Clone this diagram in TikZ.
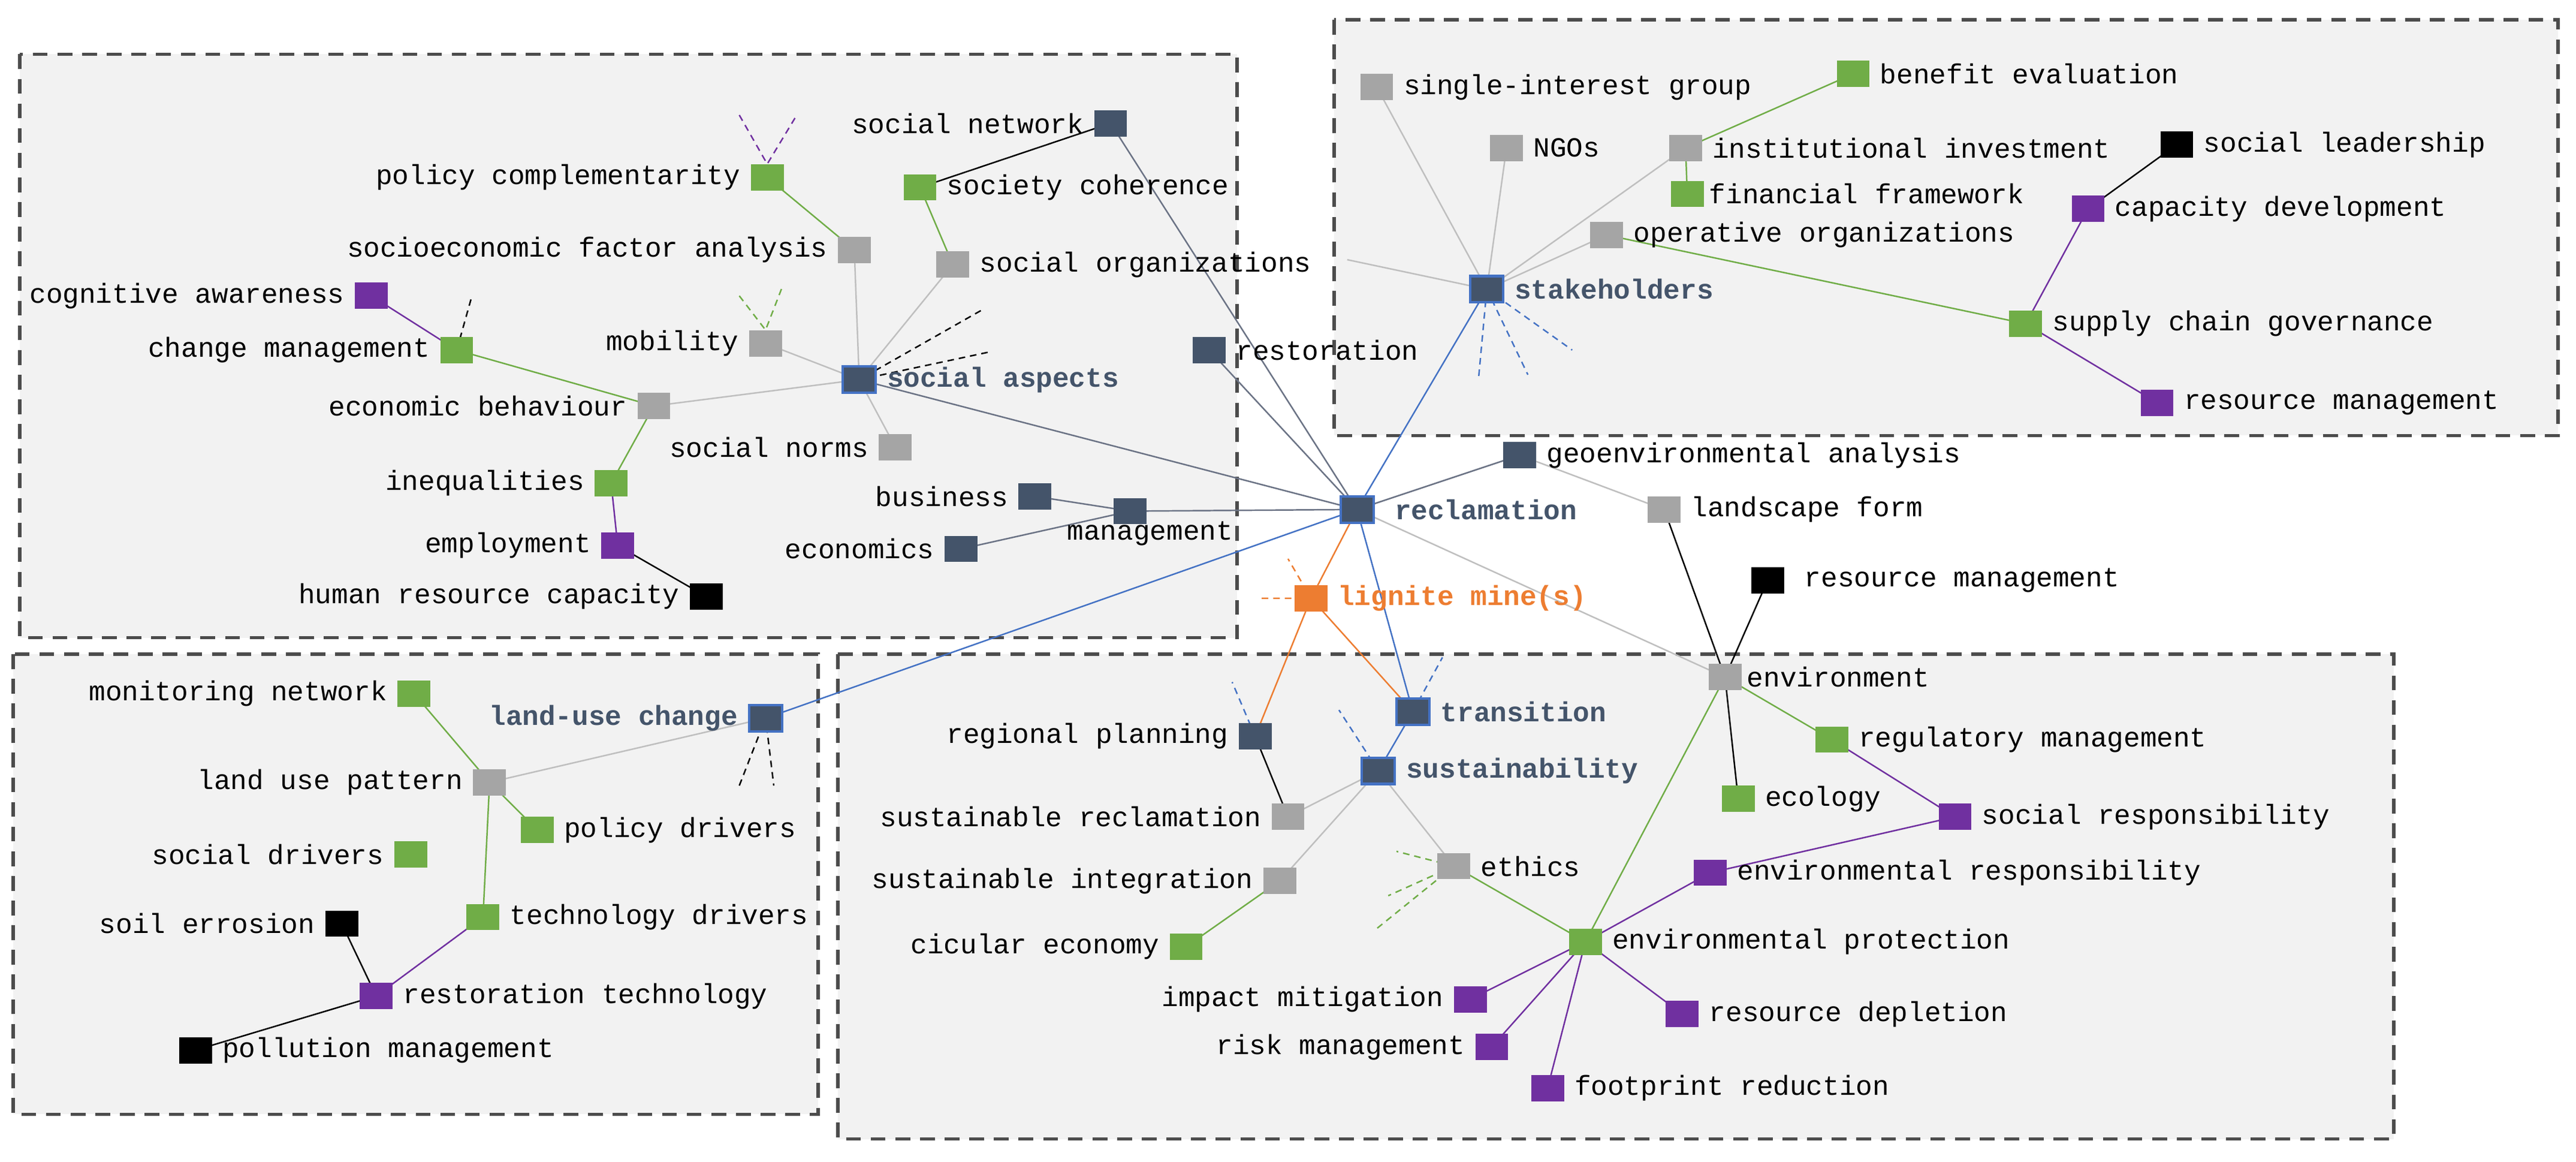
\documentclass[tikz,border=0pt]{standalone}
\usepackage{fontspec}
\setmainfont{Liberation Mono}
\pgfdeclarelayer{panels}\pgfdeclarelayer{edges}
\pgfsetlayers{panels,edges,main}
\definecolor{slate}{HTML}{44546A}
\definecolor{lgray}{HTML}{A5A5A5}
\definecolor{grn}{HTML}{70AD47}
\definecolor{pur}{HTML}{7030A0}
\definecolor{org}{HTML}{ED7D31}
\definecolor{blu}{HTML}{4472C4}
\definecolor{eg}{HTML}{BFBFBF}
\definecolor{es}{HTML}{6B7385}
\tikzset{
 sq/.style={rectangle,minimum width=20pt,minimum height=16pt,inner sep=0},
 D/.style={sq,fill=slate}, G/.style={sq,fill=lgray}, Gr/.style={sq,fill=grn},
 P/.style={sq,fill=pur}, K/.style={sq,fill=black}, O/.style={sq,fill=org},
 KEY/.style={sq,fill=slate,draw=blu,line width=1.5pt},
 lab/.style={font=\fontsize{16.8}{17}\selectfont,inner sep=6pt},
 kl/.style={lab,font=\fontsize{16.8}{17}\selectfont\bfseries,text=slate},
 panel/.style={fill=black!5,draw=black!70,line width=2pt,dash pattern=on 9pt off 6pt},
 e/.style={line width=0.9pt},
 stub/.style={line width=0.9pt,dash pattern=on 4pt off 3pt}
}
\begin{document}
\begin{tikzpicture}[x=1pt,y=-1pt]
\begin{pgfonlayer}{panels}
\fill[white] (0,0) rectangle (1568,707);
\draw[panel] (12,33) rectangle (753,388);
\draw[panel] (812,12) rectangle (1557,265);
\draw[panel] (8,398) rectangle (498,678);
\draw[panel] (510,398) rectangle (1457,693);
\end{pgfonlayer}
\useasboundingbox (0,0) rectangle (1568,707);
% social
\node[D] (snet) at (676,75) {}; \node[lab,left] at (snet.west) {social network};
\node[Gr] (polcomp) at (467,108) {}; \node[lab,left] at (polcomp.west) {policy complementarity};
\node[Gr] (socoh) at (560,114) {}; \node[lab,right] at (socoh.east) {society coherence};
\node[G] (sefa) at (520,152) {}; \node[lab,left] at (sefa.west) {socioeconomic factor analysis};
\node[G] (socorg) at (580,161) {}; \node[lab,right] at (socorg.east) {social organizations};
\node[P] (cogaw) at (226,180) {}; \node[lab,left] at (cogaw.west) {cognitive awareness};
\node[Gr] (chg) at (278,213) {}; \node[lab,left] at (chg.west) {change management};
\node[G] (mob) at (466,209) {}; \node[lab,left] at (mob.west) {mobility};
\node[KEY] (socasp) at (523,231) {}; \node[kl,right] at (socasp.east) {social aspects};
\node[G] (econbeh) at (398,247) {}; \node[lab,left] at (econbeh.west) {economic behaviour};
\node[G] (socnorms) at (545,272) {}; \node[lab,left] at (socnorms.west) {social norms};
\node[Gr] (ineq) at (372,294) {}; \node[lab,left] at (ineq.west) {inequalities};
\node[D] (business) at (630,302) {}; \node[lab,left] at (business.west) {business};
\node[D] (mgmt) at (688,311) {}; \node[lab,anchor=north] at (700,311) {management};
\node[D] (econ) at (585,334) {}; \node[lab,left] at (econ.west) {economics};
\node[P] (empl) at (376,332) {}; \node[lab,left] at (empl.west) {employment};
\node[K] (hrc) at (430,363) {}; \node[lab,left] at (hrc.west) {human resource capacity};
\node[D] (restor) at (736,213) {}; \node[lab,right] at (restor.east) {restoration};
% center
\node[KEY] (reclam) at (826,310) {}; \node[kl,right,xshift=6pt] at (reclam.east) {reclamation};
\node[D] (geoenv) at (925,277) {}; \node[lab,right] at (geoenv.east) {geoenvironmental analysis};
\node[G] (landsc) at (1013,310) {}; \node[lab,right] at (landsc.east) {landscape form};
\node[K] (resmg2) at (1076,353) {}; \node[lab,right,xshift=6pt] at (resmg2.east) {resource management};
\node[O] (lign) at (798,364) {}; \node[kl,right,text=org] at (lign.east) {lignite mine(s)};
\node[G] (env) at (1050,412) {}; \node[lab,right,inner sep=3pt] at (env.east) {environment};
% stakeholders
\node[G] (sig) at (838,53) {}; \node[lab,right] at (sig.east) {single-interest group};
\node[Gr] (benef) at (1128,45) {}; \node[lab,right] at (benef.east) {benefit evaluation};
\node[G] (ngos) at (917,90) {}; \node[lab,right] at (ngos.east) {NGOs};
\node[G] (instinv) at (1026,90) {}; \node[lab,right] at (instinv.east) {institutional investment};
\node[K] (soclead) at (1325,88) {}; \node[lab,right] at (soclead.east) {social leadership};
\node[Gr] (finfw) at (1027,118) {}; \node[lab,right,inner sep=3pt] at (finfw.east) {financial framework};
\node[P] (capdev) at (1271,127) {}; \node[lab,right] at (capdev.east) {capacity development};
\node[G] (opor) at (978,143) {}; \node[lab,right] at (opor.east) {operative organizations};
\node[KEY] (stake) at (905,176) {}; \node[kl,right] at (stake.east) {stakeholders};
\node[Gr] (scg) at (1233,197) {}; \node[lab,right] at (scg.east) {supply chain governance};
\node[P] (resmg1) at (1313,245) {}; \node[lab,right] at (resmg1.east) {resource management};
% land use
\node[Gr] (monnet) at (252,422) {}; \node[lab,left] at (monnet.west) {monitoring network};
\node[KEY] (luc) at (466,437) {}; \node[kl,left] at (luc.west) {land-use change};
\node[G] (lup) at (298,476) {}; \node[lab,left] at (lup.west) {land use pattern};
\node[Gr] (poldr) at (327,505) {}; \node[lab,right] at (poldr.east) {policy drivers};
\node[Gr] (socdr) at (250,520) {}; \node[lab,left] at (socdr.west) {social drivers};
\node[K] (soiler) at (208,562) {}; \node[lab,left] at (soiler.west) {soil errosion};
\node[Gr] (techdr) at (294,558) {}; \node[lab,right] at (techdr.east) {technology drivers};
\node[P] (restech) at (229,606) {}; \node[lab,right] at (restech.east) {restoration technology};
\node[K] (pollm) at (119,639) {}; \node[lab,right] at (pollm.east) {pollution management};
% bottom
\node[D] (regplan) at (764,448) {}; \node[lab,left] at (regplan.west) {regional planning};
\node[KEY] (trans) at (860,433) {}; \node[kl,right] at (trans.east) {transition};
\node[KEY] (sust) at (839,469) {}; \node[kl,right] at (sust.east) {sustainability};
\node[G] (susrec) at (784,497) {}; \node[lab,left] at (susrec.west) {sustainable reclamation};
\node[G] (susint) at (779,536) {}; \node[lab,left] at (susint.west) {sustainable integration};
\node[G] (ethics) at (885,527) {}; \node[lab,right] at (ethics.east) {ethics};
\node[Gr] (circ) at (722,576) {}; \node[lab,left] at (circ.west) {cicular economy};
\node[Gr] (regman) at (1115,450) {}; \node[lab,right] at (regman.east) {regulatory management};
\node[Gr] (ecol) at (1058,486) {}; \node[lab,right] at (ecol.east) {ecology};
\node[P] (socresp) at (1190,497) {}; \node[lab,right] at (socresp.east) {social responsibility};
\node[P] (envresp) at (1041,531) {}; \node[lab,right] at (envresp.east) {environmental responsibility};
\node[Gr] (envprot) at (965,573) {}; \node[lab,right] at (envprot.east) {environmental protection};
\node[P] (impmit) at (895,608) {}; \node[lab,left] at (impmit.west) {impact mitigation};
\node[P] (resdep) at (1024,617) {}; \node[lab,right] at (resdep.east) {resource depletion};
\node[P] (riskm) at (908,637) {}; \node[lab,left] at (riskm.west) {risk management};
\node[P] (footp) at (942,662) {}; \node[lab,right] at (footp.east) {footprint reduction};
% stub ends
\coordinate (a1) at (450,70); \coordinate (a2) at (485,70);
\coordinate (b1) at (287,181);
\coordinate (c1) at (450,180); \coordinate (c2) at (476,175);
\coordinate (d1) at (597,189); \coordinate (d2) at (603,214);
\coordinate (f1) at (768,364); \coordinate (f2) at (784,340);
\coordinate (g1) at (900,230); \coordinate (g2) at (930,228); \coordinate (g3) at (957,213);
\coordinate (h1) at (450,478); \coordinate (h2) at (471,478);
\coordinate (i1) at (750,415); \coordinate (i2) at (878,400); \coordinate (i3) at (815,432);
\coordinate (j1) at (850,518); \coordinate (j2) at (845,545); \coordinate (j3) at (838,565);
\coordinate (socorgEnd) at (820,158);
\begin{pgfonlayer}{edges}
\draw[e,black] (snet.center) -- (socoh.center);
\draw[e,es] (snet.center) -- (reclam.center);
\draw[e,grn] (polcomp.center) -- (sefa.center);
\draw[e,grn] (socoh.center) -- (socorg.center);
\foreach \n in {sefa,socorg,mob,econbeh,socnorms} \draw[e,eg] (\n.center) -- (socasp.center);
\draw[e,es] (socasp.center) -- (reclam.center);
\draw[e,pur] (cogaw.center) -- (chg.center);
\draw[e,grn] (chg.center) -- (econbeh.center);
\draw[e,grn] (econbeh.center) -- (ineq.center);
\draw[e,pur] (ineq.center) -- (empl.center);
\draw[e,black] (empl.center) -- (hrc.center);
\draw[e,es] (business.center) -- (mgmt.center);
\draw[e,es] (econ.center) -- (mgmt.center);
\draw[e,es] (mgmt.center) -- (reclam.center);
\draw[e,es] (restor.center) -- (reclam.center);
\draw[e,blu] (reclam.center) -- (stake.center);
\draw[e,blu] (reclam.center) -- (luc.center);
\draw[e,blu] (reclam.center) -- (trans.center);
\draw[e,org] (reclam.center) -- (lign.center);
\draw[e,es] (reclam.center) -- (geoenv.center);
\draw[e,eg] (reclam.center) -- (env.center);
\draw[e,eg] (geoenv.center) -- (landsc.center);
\draw[e,black] (landsc.center) -- (env.center);
\draw[e,black] (resmg2.center) -- (env.center);
\draw[e,org] (lign.center) -- (regplan.center);
\draw[e,org] (lign.center) -- (trans.center);
\draw[e,blu] (trans.center) -- (sust.center);
\foreach \n in {susrec,susint,ethics} \draw[e,eg] (sust.center) -- (\n.center);
\draw[e,black] (regplan.center) -- (susrec.center);
\draw[e,grn] (susint.center) -- (circ.center);
\draw[e,grn] (ethics.center) -- (envprot.center);
\draw[e,grn] (env.center) -- (envprot.center);
\draw[e,black] (env.center) -- (ecol.center);
\draw[e,grn] (env.center) -- (regman.center);
\draw[e,pur] (regman.center) -- (socresp.center);
\draw[e,pur] (socresp.center) -- (envresp.center);
\draw[e,pur] (envresp.center) -- (envprot.center);
\foreach \n in {impmit,resdep,riskm,footp} \draw[e,pur] (envprot.center) -- (\n.center);
\foreach \n in {sig,ngos,instinv,opor} \draw[e,eg] (\n.center) -- (stake.center);
\draw[e,eg] (socorgEnd) -- (stake.center);
\draw[e,grn] (instinv.center) -- (benef.center);
\draw[e,grn] (instinv.center) -- (finfw.center);
\draw[e,grn] (opor.center) -- (scg.center);
\draw[e,black] (soclead.center) -- (capdev.center);
\draw[e,pur] (capdev.center) -- (scg.center);
\draw[e,pur] (scg.center) -- (resmg1.center);
\draw[e,eg] (luc.center) -- (lup.center);
\draw[e,grn] (monnet.center) -- (lup.center);
\draw[e,grn] (lup.center) -- (poldr.center);
\draw[e,grn] (lup.center) -- (techdr.center);
\draw[e,pur] (techdr.center) -- (restech.center);
\draw[e,black] (soiler.center) -- (restech.center);
\draw[e,black] (restech.center) -- (pollm.center);
% stubs
\draw[stub,pur] (a1) -- (polcomp.north) -- (a2);
\draw[stub,black] (chg.center) -- (b1);
\draw[stub,grn] (c1) -- (mob.north) -- (c2);
\draw[stub,black] (d1) -- (socasp.center) -- (d2);
\draw[stub,org] (f1) -- (lign.center) -- (f2);
\foreach \c in {g1,g2,g3} \draw[stub,blu] (stake.center) -- (\c);
\draw[stub,black] (h1) -- (luc.center) -- (h2);
\draw[stub,blu] (regplan.center) -- (i1);
\draw[stub,blu] (trans.center) -- (i2);
\draw[stub,blu] (sust.center) -- (i3);
\foreach \c in {j1,j2,j3} \draw[stub,grn] (ethics.center) -- (\c);
\end{pgfonlayer}
\end{tikzpicture}
\end{document}
